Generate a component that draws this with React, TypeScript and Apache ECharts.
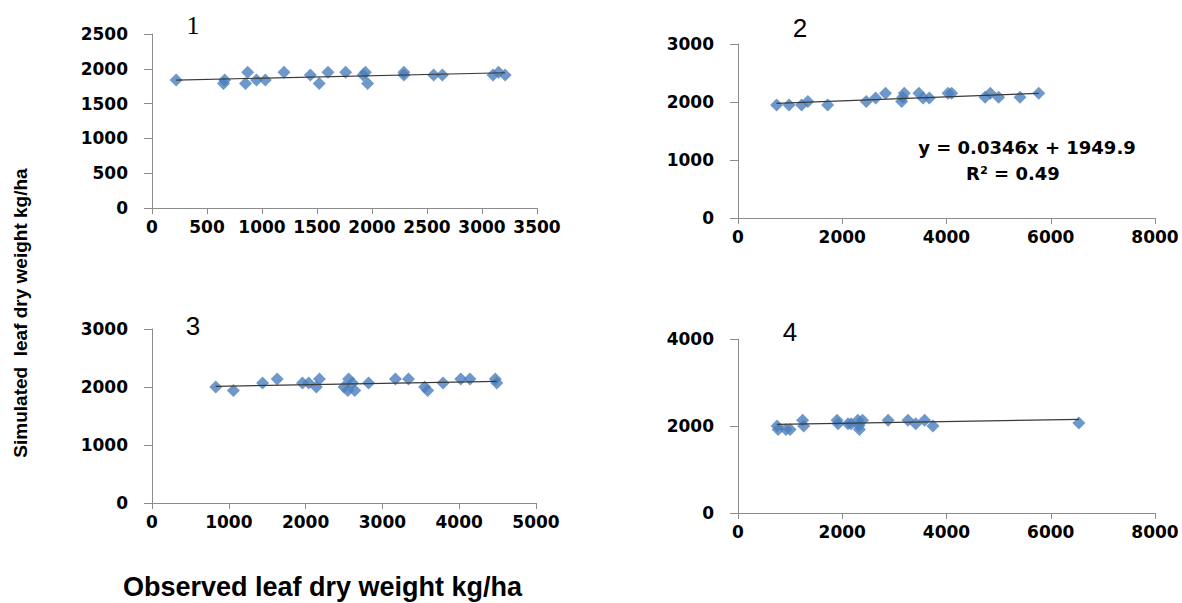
import React, { useEffect, useRef } from "react";
import * as echarts from "echarts";

// Panel 1
const p1X = [220, 650, 660, 850, 870, 950, 1030, 1200, 1440, 1520, 1600, 1760, 1920, 1940, 1960, 2290, 2290, 2560, 2640, 3100, 3150, 3210];
const p1Y = [1840, 1790, 1840, 1790, 1950, 1840, 1840, 1950, 1910, 1790, 1950, 1950, 1910, 1950, 1790, 1950, 1910, 1910, 1910, 1910, 1950, 1910];
// Panel 2
const p2X = [740, 980, 1220, 1340, 1720, 2460, 2640, 2830, 3140, 3160, 3190, 3470, 3550, 3670, 4030, 4100, 4740, 4840, 5000, 5410, 5770];
const p2Y = [1950, 1950, 1950, 2010, 1950, 2010, 2070, 2150, 2010, 2080, 2150, 2150, 2070, 2070, 2150, 2150, 2080, 2150, 2080, 2080, 2150];
// Panel 3
const p3X = [830, 1060, 1440, 1630, 1960, 2040, 2140, 2180, 2500, 2550, 2560, 2610, 2640, 2820, 3170, 3340, 3550, 3590, 3790, 4020, 4140, 4470, 4490];
const p3Y = [2000, 1940, 2070, 2140, 2070, 2070, 2000, 2140, 2000, 1940, 2140, 2070, 1940, 2070, 2140, 2140, 2000, 1940, 2070, 2140, 2140, 2140, 2070];
// Panel 4
const p4X = [750, 770, 920, 1000, 1240, 1260, 1900, 1920, 2110, 2170, 2300, 2320, 2330, 2390, 2880, 3260, 3410, 3580, 3740, 6540];
const p4Y = [2000, 1920, 1920, 1920, 2130, 2000, 2130, 2050, 2050, 2050, 2130, 2010, 1920, 2130, 2130, 2130, 2050, 2130, 2000, 2070];

// Linear trend lines (slope, intercept) per panel
const trendSlope = [0.035, 0.0346, 0.0235, 0.02];
const trendIntercept = [1831, 1949.9, 1992, 2021];

// Axes
const xMax = [3500, 8000, 5000, 8000];
const xInterval = [500, 2000, 1000, 2000];
const yMax = [2500, 3000, 3000, 4000];
const yInterval = [500, 1000, 1000, 2000];

const panelLabels = ["1", "2", "3", "4"];
const yTitle = "Simulated  leaf dry weight kg/ha";
const xTitle = "Observed leaf dry weight kg/ha";
const eqLine1 = "y = 0.0346x + 1949.9";
const eqLine2 = "R² = 0.49";

const grids = [
  { left: 152, top: 34, width: 385, height: 174 },
  { left: 738, top: 44, width: 417, height: 174 },
  { left: 152, top: 329, width: 384, height: 174 },
  { left: 738, top: 339, width: 417, height: 174 },
];

export default function App() {
  const ref = useRef<HTMLDivElement>(null);
  useEffect(() => {
    if (!ref.current) return;
    const chart = echarts.init(ref.current, null, { renderer: "svg" });
    const xs = [p1X, p2X, p3X, p4X];
    const ys = [p1Y, p2Y, p3Y, p4Y];
    const axisColor = "#8c8c8c";
    const labelStyle = {
      color: "#000",
      fontFamily: "DejaVu Sans",
      fontWeight: "bold" as const,
      fontSize: 17,
      formatter: (v: number) => String(v),
    };
    const xAxis = xs.map((_, i) => ({
      type: "value",
      gridIndex: i,
      min: 0,
      max: xMax[i],
      interval: xInterval[i],
      axisLine: { show: true, lineStyle: { color: axisColor, width: 1 } },
      axisTick: { show: true, length: 6, inside: false, lineStyle: { color: axisColor } },
      splitLine: { show: false },
      axisLabel: { ...labelStyle, margin: 10 },
    }));
    const yAxis = ys.map((_, i) => ({
      type: "value",
      gridIndex: i,
      min: 0,
      max: yMax[i],
      interval: yInterval[i],
      axisLine: { show: true, lineStyle: { color: axisColor, width: 1 } },
      axisTick: { show: true, length: 8, inside: false, lineStyle: { color: axisColor } },
      splitLine: { show: false },
      axisLabel: { ...labelStyle, margin: 24 },
    }));
    const series: any[] = [];
    xs.forEach((xArr, i) => {
      const yArr = ys[i];
      const xmin = Math.min(...xArr);
      const xmax = Math.max(...xArr);
      series.push({
        type: "line",
        xAxisIndex: i,
        yAxisIndex: i,
        data: [
          [xmin, trendSlope[i] * xmin + trendIntercept[i]],
          [xmax, trendSlope[i] * xmax + trendIntercept[i]],
        ],
        showSymbol: false,
        symbol: "none",
        lineStyle: { color: "#3a3a3a", width: 1.2 },
        z: 3,
      });
      series.push({
        type: "scatter",
        xAxisIndex: i,
        yAxisIndex: i,
        symbol: "diamond",
        symbolSize: 13,
        itemStyle: { color: "#4a7ebb" },
        data: xArr.map((x, k) => [x, yArr[k]]),
        z: 2,
      });
    });
    const labelPos = [
      { x: 193, y: 25, font: "Liberation Serif" },
      { x: 800, y: 28, font: "Liberation Sans" },
      { x: 193, y: 326, font: "Liberation Sans" },
      { x: 790, y: 332, font: "Liberation Sans" },
    ];
    const graphic: any[] = labelPos.map((p, i) => ({
      type: "text",
      x: p.x,
      y: p.y,
      style: {
        text: panelLabels[i],
        fill: "#000",
        font: `26px "${p.font}"`,
        align: "center",
        verticalAlign: "middle",
      },
    }));
    graphic.push({
      type: "text",
      x: 1027,
      y: 147,
      style: {
        text: eqLine1,
        fill: "#000",
        font: 'bold 18px "DejaVu Sans"',
        align: "center",
        verticalAlign: "middle",
      },
    });
    graphic.push({
      type: "text",
      x: 1013,
      y: 173,
      style: {
        text: eqLine2,
        fill: "#000",
        font: 'bold 18px "DejaVu Sans"',
        align: "center",
        verticalAlign: "middle",
      },
    });
    graphic.push({
      type: "text",
      x: 20,
      y: 313,
      rotation: Math.PI / 2,
      style: {
        text: yTitle,
        fill: "#000",
        font: 'bold 19px "Liberation Sans"',
        align: "center",
        verticalAlign: "middle",
      },
    });
    graphic.push({
      type: "text",
      x: 123,
      y: 587,
      style: {
        text: xTitle,
        fill: "#000",
        font: 'bold 27px "Liberation Sans"',
        align: "left",
        verticalAlign: "middle",
      },
    });
    chart.setOption({
      animation: false,
      backgroundColor: "#fff",
      grid: grids.map((g) => ({ ...g, containLabel: false })),
      xAxis,
      yAxis,
      series,
      graphic,
    });
    return () => chart.dispose();
  }, []);
  return (
    <div
      ref={ref}
      style={{ position: "fixed", left: 0, top: 0, width: 1182, height: 603 }}
    />
  );
}
